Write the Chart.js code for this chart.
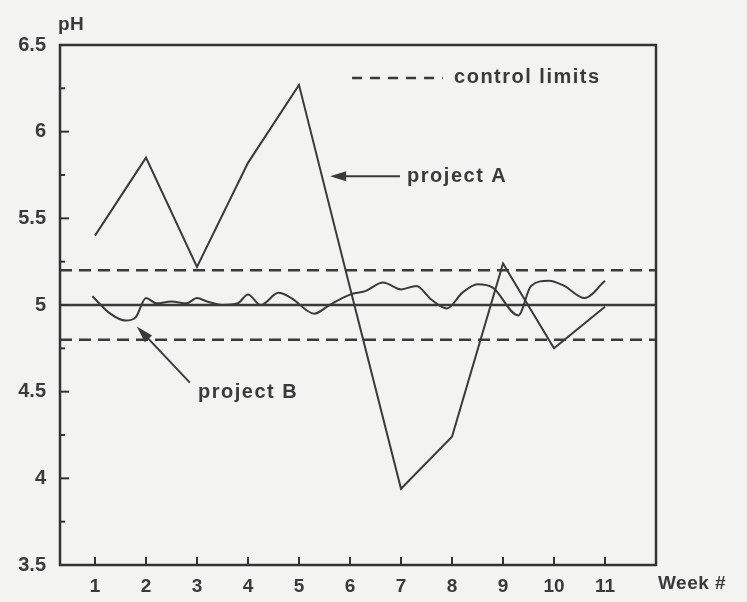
<!DOCTYPE html>
<html>
<head>
<meta charset="utf-8">
<script src="https://cdn.jsdelivr.net/npm/chart.js@4/dist/chart.umd.min.js"></script>
<style>
  html, body { margin: 0; padding: 0; background: #f3f3f2; }
  #wrap { width: 747px; height: 602px; }
</style>
</head>
<body>
<div id="wrap"><canvas id="c" width="747" height="602"></canvas></div>
<script>
// ---- data ----
const weeks = [1, 2, 3, 4, 5, 6, 7, 8, 9, 10, 11];
const weekLabels = ['1', '2', '3', '4', '5', '6', '7', '8', '9', '10', '11'];
const projectA = [5.40, 5.85, 5.22, 5.82, 6.27, 5.10, 3.94, 4.24, 5.24, 4.75, 4.99];
const projectBWeeks = [0.95, 1.3, 1.6, 1.8, 2.0, 2.2, 2.5, 2.8, 3.0, 3.2, 3.5, 3.8, 4.0, 4.25, 4.6, 4.85, 5.3, 5.6, 6.0, 6.3, 6.65, 7.0, 7.3, 7.6, 7.9, 8.2, 8.5, 8.8, 9.3, 9.55, 9.9, 10.2, 10.6, 11.0];
const projectB = [5.05, 4.95, 4.91, 4.93, 5.04, 5.01, 5.02, 5.01, 5.04, 5.02, 5.00, 5.01, 5.06, 5.00, 5.07, 5.04, 4.95, 5.00, 5.06, 5.08, 5.13, 5.09, 5.11, 5.03, 4.98, 5.07, 5.12, 5.10, 4.94, 5.11, 5.14, 5.11, 5.04, 5.14];
const targetPH = [5.0];
const upperLimit = [5.2];
const lowerLimit = [4.8];
const yRange = [3.5, 6.5];
const xRange = [0.314, 12.0];

// ---- styles / layout ----
const INK = '#3a3a3a';
const LINE = '#3a3a3a';
const FONT = '"Liberation Sans", Arial, Helvetica, sans-serif';
const DASH = [12, 7];

const annotations = {
  legendDash: { x0: 6.04, x1: 7.82, y: 6.31 },
  legendText: { x: 8.04, y: 6.31, text: 'control limits' },
  arrowA: { tipX: 5.61, tailX: 6.98, y: 5.743 },
  textA: { x: 7.12, y: 5.743, text: 'project A' },
  arrowB: { tipX: 1.82, tipY: 4.876, tailX: 2.86, tailY: 4.552 },
  textB: { x: 3.02, y: 4.494, text: 'project B' }
};

function pts(xs, ys) { return xs.map((x, i) => ({ x: x, y: ys[i] })); }
function hline(v) { return [{ x: xRange[0], y: v }, { x: xRange[1], y: v }]; }

function arrowHead(ctx, tx, ty, fx, fy, len, half) {
  const a = Math.atan2(ty - fy, tx - fx);
  ctx.beginPath();
  ctx.moveTo(tx, ty);
  ctx.lineTo(tx - len * Math.cos(a) + half * Math.sin(a), ty - len * Math.sin(a) - half * Math.cos(a));
  ctx.lineTo(tx - len * Math.cos(a) - half * Math.sin(a), ty - len * Math.sin(a) + half * Math.cos(a));
  ctx.closePath();
  ctx.fill();
}

const decor = {
  id: 'decor',
  beforeDraw(chart) {
    const ctx = chart.ctx;
    ctx.save();
    ctx.fillStyle = '#f3f3f2';
    ctx.fillRect(0, 0, chart.width, chart.height);
    ctx.restore();
  },
  afterDatasetsDraw(chart) {
    const ctx = chart.ctx;
    const a = chart.chartArea;
    const xs = chart.scales.x, ys = chart.scales.y;
    ctx.save();
    // frame
    ctx.strokeStyle = '#333';
    ctx.lineWidth = 2.5;
    ctx.strokeRect(a.left, a.top, a.right - a.left, a.bottom - a.top);
    // inward y ticks
    ctx.lineWidth = 2;
    ys.ticks.forEach(t => {
      const y = ys.getPixelForValue(t.value);
      const major = Math.abs(t.value * 2 - Math.round(t.value * 2)) < 1e-6;
      ctx.beginPath();
      ctx.moveTo(a.left, y);
      ctx.lineTo(a.left + (major ? 9 : 5), y);
      ctx.stroke();
    });
    // inward x ticks
    xs.ticks.forEach(t => {
      const x = xs.getPixelForValue(t.value);
      ctx.beginPath();
      ctx.moveTo(x, a.bottom);
      ctx.lineTo(x, a.bottom - 8);
      ctx.stroke();
    });
    // annotations
    ctx.fillStyle = INK;
    ctx.strokeStyle = LINE;
    ctx.font = 'bold 20px ' + FONT;
    ctx.textBaseline = 'middle';
    ctx.textAlign = 'left';
    try { ctx.letterSpacing = '1.5px'; } catch (e) {}
    const L = annotations;
    // legend dashes
    ctx.lineWidth = 2.5;
    ctx.setLineDash([10, 8]);
    ctx.beginPath();
    ctx.moveTo(xs.getPixelForValue(L.legendDash.x0), ys.getPixelForValue(L.legendDash.y));
    ctx.lineTo(xs.getPixelForValue(L.legendDash.x1), ys.getPixelForValue(L.legendDash.y));
    ctx.stroke();
    ctx.setLineDash([]);
    ctx.fillText(L.legendText.text, xs.getPixelForValue(L.legendText.x), ys.getPixelForValue(L.legendText.y));
    // arrow A
    ctx.lineWidth = 2;
    const ay = ys.getPixelForValue(L.arrowA.y);
    const atx = xs.getPixelForValue(L.arrowA.tipX), afx = xs.getPixelForValue(L.arrowA.tailX);
    ctx.beginPath();
    ctx.moveTo(afx, ay);
    ctx.lineTo(atx + 8, ay);
    ctx.stroke();
    arrowHead(ctx, atx, ay, afx, ay, 16, 5);
    ctx.fillText(L.textA.text, xs.getPixelForValue(L.textA.x), ys.getPixelForValue(L.textA.y));
    // arrow B
    const btx = xs.getPixelForValue(L.arrowB.tipX), bty = ys.getPixelForValue(L.arrowB.tipY);
    const bfx = xs.getPixelForValue(L.arrowB.tailX), bfy = ys.getPixelForValue(L.arrowB.tailY);
    ctx.beginPath();
    ctx.moveTo(bfx, bfy);
    ctx.lineTo(btx + (bfx - btx) * 0.15, bty + (bfy - bty) * 0.15);
    ctx.stroke();
    arrowHead(ctx, btx, bty, bfx, bfy, 17, 5);
    ctx.fillText(L.textB.text, xs.getPixelForValue(L.textB.x), ys.getPixelForValue(L.textB.y));
    // axis titles
    try { ctx.letterSpacing = '0.5px'; } catch (e) {}
    ctx.font = 'bold 19px ' + FONT;
    ctx.fillText('pH', a.left - 2, a.top - 20);
    ctx.font = 'bold 19px ' + FONT;
    ctx.fillText('Week #', a.right + 2, xs.top + 19);
    ctx.restore();
  }
};

new Chart(document.getElementById('c'), {
  type: 'line',
  data: {
    datasets: [
      { label: 'project A', data: pts(weeks, projectA), borderColor: LINE, borderWidth: 2, pointRadius: 0, tension: 0 },
      { label: 'project B', data: pts(projectBWeeks, projectB), borderColor: LINE, borderWidth: 2, pointRadius: 0, tension: 0.4, cubicInterpolationMode: 'monotone' },
      { label: 'target', data: hline(targetPH[0]), borderColor: LINE, borderWidth: 2.5, pointRadius: 0 },
      { label: 'upper control limit', data: hline(upperLimit[0]), borderColor: LINE, borderWidth: 2.5, borderDash: DASH, pointRadius: 0 },
      { label: 'lower control limit', data: hline(lowerLimit[0]), borderColor: LINE, borderWidth: 2.5, borderDash: DASH, pointRadius: 0 }
    ]
  },
  options: {
    responsive: false,
    animation: false,
    events: [],
    layout: { padding: { top: 45, right: 91, left: 0, bottom: 0 } },
    plugins: { legend: { display: false }, tooltip: { enabled: false } },
    scales: {
      x: {
        type: 'linear',
        min: xRange[0],
        max: xRange[1],
        grid: { display: false, drawTicks: false },
        border: { display: false },
        afterBuildTicks: (s) => { s.ticks = weeks.map(v => ({ value: v })); },
        afterFit: (s) => { s.height = 37; },
        ticks: {
          autoSkip: false,
          maxRotation: 0,
          padding: 10,
          color: INK,
          font: { family: FONT, size: 19, weight: 'bold' },
          callback: (v) => weekLabels[weeks.indexOf(v)] ?? ''
        }
      },
      y: {
        min: yRange[0],
        max: yRange[1],
        grid: { display: false, drawTicks: false },
        border: { display: false },
        afterFit: (s) => { s.width = 60; },
        ticks: {
          stepSize: 0.25,
          autoSkip: false,
          padding: 14,
          color: INK,
          font: { family: FONT, size: 20, weight: 'bold' },
          callback: (v) => (Math.abs(v * 2 - Math.round(v * 2)) < 1e-6 ? String(v) : '')
        }
      }
    }
  },
  plugins: [decor]
});
</script>
</body>
</html>
